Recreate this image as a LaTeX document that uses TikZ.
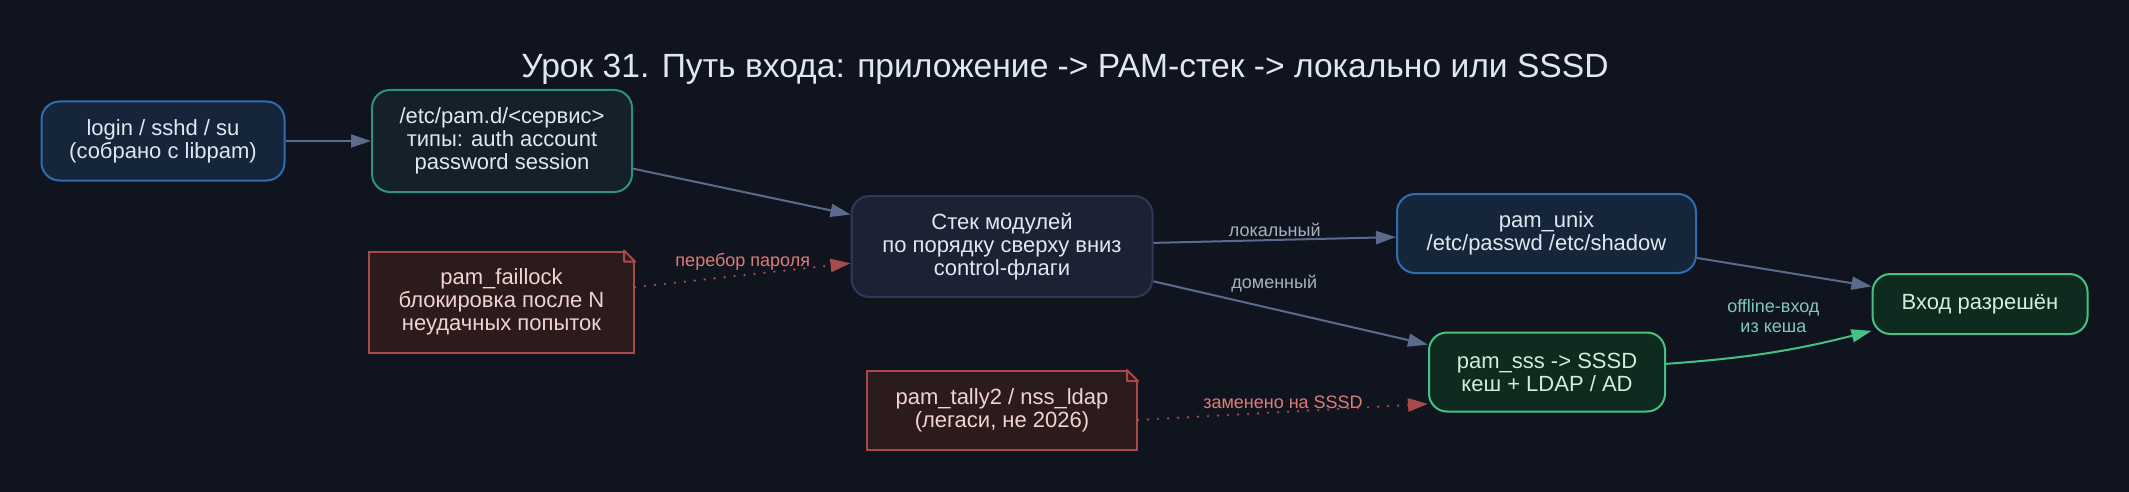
\documentclass[tikz,border=0pt]{standalone}
\usepackage{fontspec}
\setmainfont{Liberation Sans}
\usepackage{tikz}
\usetikzlibrary{calc,arrows.meta}

\definecolor{bgcol}{HTML}{10141F}
\definecolor{bluefill}{HTML}{15263B}
\definecolor{blueline}{HTML}{2F6DB0}
\definecolor{tealfill}{HTML}{142129}
\definecolor{tealline}{HTML}{2A9088}
\definecolor{stackfill}{HTML}{1B2234}
\definecolor{stackline}{HTML}{2E3A55}
\definecolor{notefill}{HTML}{2B1B1D}
\definecolor{noteline}{HTML}{A8494A}
\definecolor{greenfill}{HTML}{0F2A1F}
\definecolor{greenline}{HTML}{45C283}
\definecolor{edgegray}{HTML}{5B6B8C}
\definecolor{textlight}{HTML}{E1E7EF}
\definecolor{notetext}{HTML}{F2D3CF}
\definecolor{greentext}{HTML}{CDEFDC}
\definecolor{lblgray}{HTML}{A7B1C4}
\definecolor{lblred}{HTML}{E07B78}
\definecolor{lblteal}{HTML}{7FC7C2}

\begin{document}
\begin{tikzpicture}[x=0.5pt,y=-0.5pt,
  box/.style={draw,rounded corners=9pt,line width=1pt,align=center,inner sep=0pt,
    text=textlight,font=\fontsize{11}{11.5}\selectfont},
  bluebox/.style={box,draw=blueline,fill=bluefill},
  greenbox/.style={box,draw=greenline,fill=greenfill,text=greentext},
  notebox/.style={draw=noteline,fill=notefill,line width=1pt,align=center,inner sep=0pt,
    text=notetext,font=\fontsize{11}{11.5}\selectfont},
  flow/.style={-{Triangle[length=10pt,width=6.5pt]},line width=1pt,draw=edgegray},
  hint/.style={flow,draw=noteline,line width=1.3pt,dash pattern=on 0.01pt off 5pt,line cap=round},
  lbl/.style={font=\fontsize{9}{10}\selectfont,text=lblgray,inner sep=1pt,align=center}]
\useasboundingbox (0,0) rectangle (2129,492);
\fill[bgcol] (0,0) rectangle (2129,492);

\node[anchor=base,text=textlight,font=\fontsize{16.8}{20}\selectfont] (title) at (1065,78)
  {Урок 31. Путь входа: приложение -> PAM-стек -> локально или SSSD};

% nodes
\node[bluebox,minimum width=121.5pt,minimum height=39.5pt] (login) at (163,141)
  {login / sshd / su\\(собрано с libpam)};
\node[box,draw=tealline,fill=tealfill,minimum width=130pt,minimum height=51pt] (pamd) at (502,141)
  {/etc/pam.d/<сервис>\\типы: auth account\\password session};
\node[box,draw=stackline,fill=stackfill,minimum width=150.5pt,minimum height=50.5pt] (stack) at (1002,246.5)
  {Стек модулей\\по порядку сверху вниз\\control-флаги};
\node[notebox,minimum width=132.5pt,minimum height=50.5pt] (faillock) at (501.5,302)
  {pam\_faillock\\блокировка после N\\неудачных попыток};
\node[bluebox,minimum width=149.5pt,minimum height=39.5pt] (pamunix) at (1546.5,233.5)
  {pam\_unix\\/etc/passwd /etc/shadow};
\node[greenbox,minimum width=118pt,minimum height=39.5pt] (pamsss) at (1547,372)
  {pam\_sss -> SSSD\\кеш + LDAP / AD};
\node[notebox,minimum width=135pt,minimum height=39.5pt] (tally) at (1002,410.5)
  {pam\_tally2 / nss\_ldap\\(легаси, не 2026)};
\node[greenbox,minimum width=107.5pt,minimum height=30pt] (allow) at (1980,304)
  {Вход разрешён};

% folded corners of the notes
\foreach \n in {faillock,tally}{
  \fill[bgcol] ([xshift=-5.5pt]\n.north east) -- ([xshift=1pt,yshift=1pt]\n.north east) -- ([yshift=-5.5pt]\n.north east) -- cycle;
  \draw[noteline,line width=1pt,line join=round] ([xshift=-5.5pt]\n.north east) -- ([yshift=-5.5pt]\n.north east)
    -- ([xshift=-5.5pt,yshift=-5.5pt]\n.north east) -- cycle;
}

% edges
\draw[flow] (login) -- (pamd);
\draw[flow] (pamd) -- (stack);
\draw[hint] (faillock) -- node[lbl,text=lblred,above=1pt] {перебор пароля} (stack);
\draw[flow] (stack) -- node[lbl,above=0pt] {локальный} (pamunix);
\draw[flow] (stack) -- node[lbl,above=7pt,pos=0.44] {доменный} (pamsss);
\draw[flow] (pamunix) -- (allow);
\draw[flow,draw=greenline] (pamsss) to[bend right=5]
  node[lbl,text=lblteal,above=8pt,pos=0.52] {offline-вход\\из кеша} (allow);
\draw[hint] (tally.-4) -- node[lbl,text=lblred,above=0pt] {заменено на SSSD} (pamsss.195);
\end{tikzpicture}
\end{document}
